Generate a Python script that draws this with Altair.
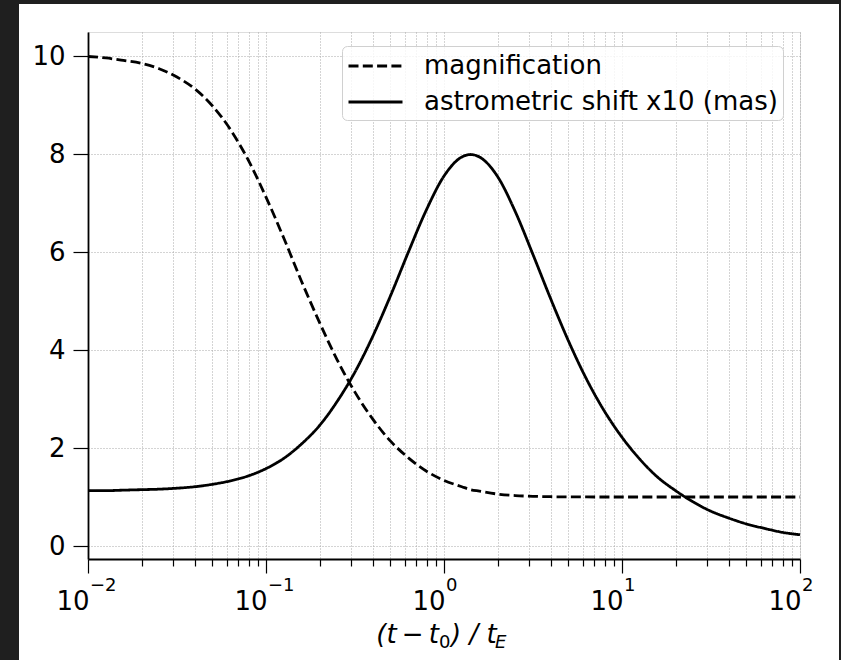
import altair as alt
import pandas as pd

# (t - t0) / tE sample positions
tau = [0.01, 0.0126, 0.0158, 0.02, 0.0251, 0.0316, 0.0398, 0.0501, 0.0631, 0.0794,
       0.1, 0.126, 0.158, 0.2, 0.251, 0.316, 0.398, 0.501, 0.631, 0.794,
       1.0, 1.26, 1.41, 1.58, 2.0, 2.51, 3.16, 3.98, 5.01, 6.31,
       7.94, 10, 12.6, 15.8, 20, 25.1, 31.6, 39.8, 50.1, 63.1,
       79.4, 100]

magnification = [9.99, 9.96, 9.91, 9.85, 9.74, 9.57, 9.33, 8.98, 8.50, 7.88,
                 7.12, 6.28, 5.41, 4.56, 3.80, 3.14, 2.59, 2.14, 1.80, 1.53,
                 1.34, 1.21, 1.15, 1.12, 1.06, 1.03, 1.014, 1.006, 1.003, 1.001,
                 1.0005, 1.0, 1.0, 1.0, 1.0, 1.0, 1.0, 1.0, 1.0, 1.0,
                 1.0, 1.0]

astrometric_x10 = [1.13, 1.13, 1.14, 1.15, 1.16, 1.18, 1.21, 1.26, 1.33, 1.43,
                   1.58, 1.79, 2.08, 2.46, 2.95, 3.55, 4.28, 5.11, 6.00, 6.85,
                   7.55, 7.94, 7.99, 7.94, 7.54, 6.83, 5.95, 5.04, 4.18, 3.41,
                   2.76, 2.22, 1.77, 1.41, 1.13, 0.90, 0.71, 0.57, 0.45, 0.36,
                   0.28, 0.23]

series_names = ["magnification", "astrometric shift x10 (mas)"]

x_tick_values = [0.01, 0.02, 0.03, 0.04, 0.05, 0.06, 0.07, 0.08, 0.09,
                 0.1, 0.2, 0.3, 0.4, 0.5, 0.6, 0.7, 0.8, 0.9,
                 1, 2, 3, 4, 5, 6, 7, 8, 9,
                 10, 20, 30, 40, 50, 60, 70, 80, 90, 100]
x_major_values = [0.01, 0.1, 1, 10, 100]
x_major_exponents = ["\u22122", "\u22121", "0", "1", "2"]
y_tick_values = [0, 2, 4, 6, 8, 10]

df = pd.DataFrame({
    "tau": tau * 2,
    "value": magnification + astrometric_x10,
    "series": [series_names[0]] * len(tau) + [series_names[1]] * len(tau),
})
exp_df = pd.DataFrame({"tau": x_major_values, "exp": x_major_exponents})

FONT = "DejaVu Sans"
GRID = "#a8a8a8"
is_pow = "abs(log(datum.value)/LN10 - round(log(datum.value)/LN10)) < 0.001"

x_scale = alt.Scale(type="log", domain=[0.01, 100], nice=False)
y_scale = alt.Scale(domain=[-0.265, 10.49], nice=False, zero=False)

x_axis = alt.Axis(
    values=x_tick_values,
    title=None,
    grid=True,
    gridColor=GRID,
    gridDash=[1, 2],
    gridWidth=1,
    tickColor="black",
    tickWidth=1.2,
    tickSize={"condition": {"test": is_pow, "value": 14}, "value": 7},
    labelExpr=is_pow + " ? '10' : ''",
    labelFontSize=26,
    labelFont=FONT,
    labelColor="black",
    labelAlign="right",
    labelOffset=1,
    labelPadding=15,
    labelOverlap=False,
    labelFlush=False,
    domainColor="black",
    domainWidth=1.8,
)

y_axis = alt.Axis(
    values=y_tick_values,
    title=None,
    grid=True,
    gridColor=GRID,
    gridDash=[1, 2],
    gridWidth=1,
    tickColor="black",
    tickWidth=1.2,
    tickSize=15,
    labelFontSize=26,
    labelFont=FONT,
    labelColor="black",
    labelPadding=8,
    domainColor="black",
    domainWidth=1.8,
)

lines = alt.Chart(df).mark_line(color="black", strokeWidth=2.8, interpolate="monotone").encode(
    x=alt.X("tau:Q", scale=x_scale, axis=x_axis),
    y=alt.Y("value:Q", scale=y_scale, axis=y_axis),
    strokeDash=alt.StrokeDash(
        "series:N",
        scale=alt.Scale(domain=series_names, range=[[10, 4.3], [1, 0]]),
        legend=alt.Legend(
            title=None,
            orient="none",
            legendX=254,
            legendY=14,
            symbolType="M-1,0H3",
            symbolSize=729,
            symbolStrokeWidth=2.8,
            symbolStrokeColor="black",
            symbolFillColor="transparent",
            labelFontSize=26,
            labelFont=FONT,
            labelColor="black",
            labelOffset=47,
            labelLimit=600,
            rowPadding=8,
            padding=5,
            fillColor="rgba(255,255,255,0.8)",
            strokeColor="#d0d0d0",
            cornerRadius=5,
        ),
    ),
    order=alt.Order("tau:Q"),
)

exponents = alt.Chart(exp_df).mark_text(
    font=FONT, fontSize=18, align="left", baseline="alphabetic", color="black", dx=2
).encode(
    x=alt.X("tau:Q", scale=x_scale),
    y=alt.value(559),
    text="exp:N",
)

one = pd.DataFrame({"k": [0]})
DARK = "#1f1f1f"

left_strip = alt.Chart(one).mark_rect(color=DARK).encode(
    x=alt.value(-88), x2=alt.value(-69), y=alt.value(-32), y2=alt.value(628))
top_strip = alt.Chart(one).mark_rect(color=DARK).encode(
    x=alt.value(-88), x2=alt.value(753), y=alt.value(-32), y2=alt.value(-28))
right_strip = alt.Chart(one).mark_rect(color=DARK).encode(
    x=alt.value(751), x2=alt.value(753), y=alt.value(-32), y2=alt.value(628))

title_y = 611
tx = 351
t1 = alt.Chart(one).mark_text(font=FONT, fontSize=26, fontStyle="italic", align="right",
                              baseline="alphabetic", color="black").encode(
    x=alt.value(tx), y=alt.value(title_y), text=alt.value("(t\u2009\u2212\u2009t"))
t2 = alt.Chart(one).mark_text(font=FONT, fontSize=18, align="left",
                              baseline="alphabetic", color="black").encode(
    x=alt.value(tx), y=alt.value(title_y + 5), text=alt.value("0"))
t3 = alt.Chart(one).mark_text(font=FONT, fontSize=26, fontStyle="italic", align="left",
                              baseline="alphabetic", color="black").encode(
    x=alt.value(tx + 12), y=alt.value(title_y), text=alt.value(") / t"))
t4 = alt.Chart(one).mark_text(font=FONT, fontSize=18, fontStyle="italic", align="left",
                              baseline="alphabetic", color="black").encode(
    x=alt.value(tx + 56), y=alt.value(title_y + 5), text=alt.value("E"))

chart = alt.layer(
    left_strip, top_strip, right_strip, lines, exponents, t1, t2, t3, t4
).properties(
    width=712,
    height=527,
    background="white",
    padding={"left": 88, "top": 32, "right": 41, "bottom": 101},
    autosize=alt.AutoSizeParams(type="none"),
).configure_view(
    stroke="black",
    strokeWidth=1.8,
).configure(
    font=FONT,
)

chart.save("out.html", embed_options={"renderer": "svg", "actions": False})
